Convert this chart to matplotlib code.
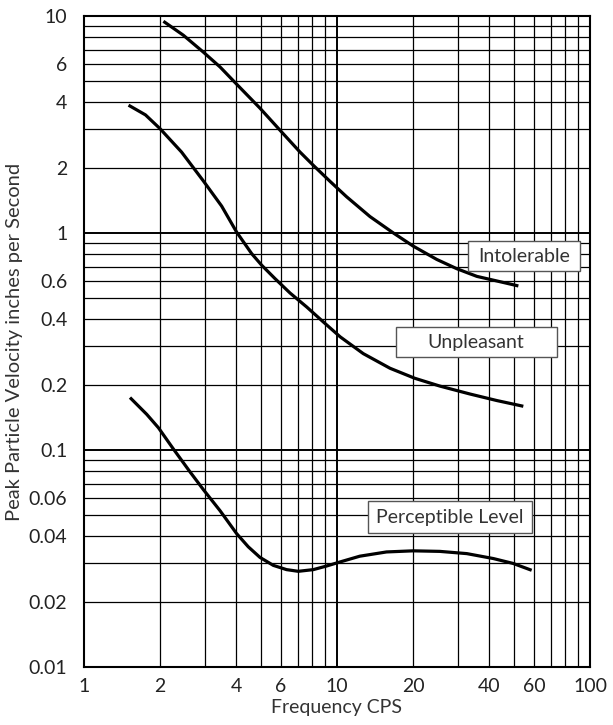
import numpy as np
import matplotlib.pyplot as plt
from matplotlib.patches import Rectangle
from matplotlib.ticker import FixedLocator, FixedFormatter, NullFormatter

plt.rcParams['font.family'] = ['Lato', 'DejaVu Sans']

# curves (frequency in CPS, velocity in in/s)
intol_f = [2.06, 2.47, 2.96, 3.45, 3.99, 4.96, 6.04, 7.14, 8.06, 9.38, 10.9, 13.5, 16.7, 20.0, 24.8, 29.7, 35.7, 42.8, 52.1]
intol_v = [9.45, 8.15, 6.82, 5.82, 4.88, 3.76, 2.92, 2.36, 2.05, 1.73, 1.47, 1.19, 1.0, 0.87, 0.755, 0.685, 0.631, 0.601, 0.57]

unpl_f = [1.50, 1.75, 2.0, 2.43, 2.96, 3.5, 4.01, 4.6, 5.04, 5.69, 6.52, 7.59, 8.83, 10.3, 12.7, 16.2, 20.3, 25.5, 33.6, 42.8, 54.5]
unpl_v = [3.88, 3.5, 3.02, 2.36, 1.74, 1.33, 1.01, 0.803, 0.71, 0.616, 0.529, 0.456, 0.389, 0.332, 0.278, 0.238, 0.214, 0.197, 0.181, 0.169, 0.159]

perc_f = [1.52, 1.77, 1.97, 2.25, 2.62, 2.96, 3.45, 4.01, 4.46, 4.96, 5.6, 6.32, 7.03, 8.06, 9.1, 10.3, 12.3, 15.7, 20.0, 25.5, 32.6, 41.5, 49.7, 58.8]
perc_v = [0.1744, 0.146, 0.1265, 0.1015, 0.0795, 0.0658, 0.0525, 0.0412, 0.0358, 0.0320, 0.0294, 0.0281, 0.0276, 0.0281, 0.0292, 0.0305, 0.0324, 0.0339, 0.0343, 0.0341, 0.0333, 0.0316, 0.0300, 0.0279]

xticks = [1, 2, 4, 6, 10, 20, 40, 60, 100]
xlabels = ['1', '2', '4', '6', '10', '20', '40', '60', '100']
yticks = [0.01, 0.02, 0.04, 0.06, 0.1, 0.2, 0.4, 0.6, 1, 2, 4, 6, 10]
ylabels = ['0.01', '0.02', '0.04', '0.06', '0.1', '0.2', '0.4', '0.6', '1', '2', '4', '6', '10']

labels = ['Intolerable', 'Unpleasant', 'Perceptible Level']
label_text_pos = [(54.8, 0.782), (35.4, 0.313), (27.97, 0.049)]
# label boxes: (x0, x1, y0, y1) in data units
label_boxes = [(32.9, 91.3, 0.666, 0.916), (17.1, 74.1, 0.2675, 0.3675), (13.26, 59.0, 0.0413, 0.058)]

fig = plt.figure(figsize=(6.13, 7.25), dpi=100)
ax = fig.add_axes([0.137, 0.08, 0.8255, 0.898])
ax.set_xscale('log')
ax.set_yscale('log')
ax.set_xlim(1, 100)
ax.set_ylim(0.01, 10)

# grid: every 1..9 of each decade
xg = [m * 10**d for d in range(0, 2) for m in range(1, 10)] + [100]
yg = [m * 10.0**d for d in range(-2, 1) for m in range(1, 10)] + [10]
for v in xg:
    lw = 1.4 if v in (1, 10, 100) else 0.9
    ax.axvline(v, color='black', lw=lw, zorder=1)
for v in yg:
    lw = 1.4 if np.isclose(np.log10(v), round(np.log10(v))) else 0.9
    ax.axhline(v, color='black', lw=lw, zorder=1)

for f, v in [(intol_f, intol_v), (unpl_f, unpl_v), (perc_f, perc_v)]:
    ax.plot(f, v, color='black', lw=2.3, solid_capstyle='butt', solid_joinstyle='round', zorder=3)

for txt, (x, y), (x0, x1, y0, y1) in zip(labels, label_text_pos, label_boxes):
    ax.add_patch(Rectangle((x0, y0), x1 - x0, y1 - y0, fc='white', ec='#555555', lw=1.0, zorder=4))
    ax.text(x, y, txt, ha='center', va='center', fontsize=14, color='#333333', zorder=5)

ax.xaxis.set_major_locator(FixedLocator(xticks))
ax.xaxis.set_major_formatter(FixedFormatter(xlabels))
ax.xaxis.set_minor_formatter(NullFormatter())
ax.yaxis.set_major_locator(FixedLocator(yticks))
ax.yaxis.set_major_formatter(FixedFormatter(ylabels))
ax.yaxis.set_minor_formatter(NullFormatter())
ax.tick_params(which='both', length=0, labelsize=14, colors='#222222')
ax.tick_params(axis='x', pad=8)
ax.tick_params(axis='y', pad=12)

for s in ax.spines.values():
    s.set_linewidth(1.5)
    s.set_color('black')

ax.set_xlabel('Frequency CPS', fontsize=14, color='#333333', labelpad=3)
ax.set_ylabel('Peak Particle Velocity inches per Second', fontsize=14.5, color='#333333', labelpad=4)

fig.savefig('out.png', dpi=100)
